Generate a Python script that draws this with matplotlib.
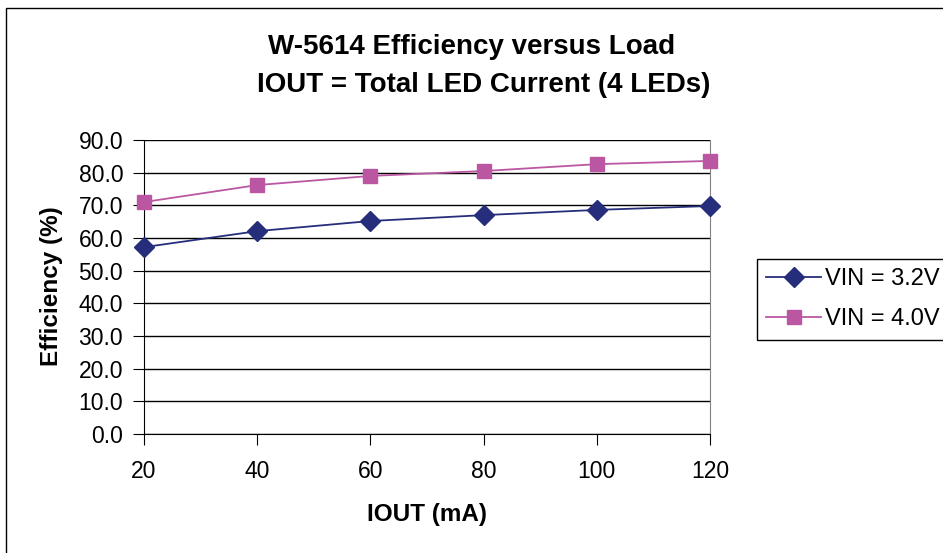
import matplotlib.pyplot as plt
from matplotlib.patches import Rectangle

plt.rcParams['font.family'] = ['Liberation Sans', 'DejaVu Sans']

# Data
iout = [20, 40, 60, 80, 100, 120]
eff_32 = [57.2, 62.1, 65.2, 67.0, 68.6, 69.8]
eff_40 = [71.0, 76.2, 79.0, 80.5, 82.6, 83.6]
y_ticks = [0, 10, 20, 30, 40, 50, 60, 70, 80, 90]

W, H = 943, 553
fig = plt.figure(figsize=(W / 100, H / 100), dpi=100)
ax = fig.add_axes([144 / W, 1 - 434 / H, (710 - 144) / W, (434 - 140) / H])

ax.plot(iout, eff_32, color='#262e7c', marker='D', markersize=10, lw=1.3,
        label='VIN = 3.2V', clip_on=False, zorder=4)
ax.plot(iout, eff_40, color='#bb57a2', marker='s', markersize=10, lw=1.3,
        label='VIN = 4.0V', clip_on=False, zorder=4)

ax.set_xlim(20, 120)
ax.set_ylim(0, 90)
ax.set_xticks(iout)
ax.set_yticks(y_ticks)
ax.set_yticklabels([f'{v:.1f}' for v in y_ticks])
ax.yaxis.grid(True, color='black', lw=1)
ax.set_axisbelow(True)

ax.spines['top'].set_visible(False)
ax.spines['right'].set_color('#808080')
ax.spines['left'].set_color('black')
ax.spines['bottom'].set_color('black')
ax.tick_params(axis='x', length=8, width=0.8, labelsize=16.5, pad=11)
ax.tick_params(axis='y', length=8, width=0.8, labelsize=16.5, pad=7)

ax.set_xlabel('IOUT (mA)', fontsize=17.5, fontweight='bold', labelpad=14)
fig.text(52 / W, 1 - 286 / H, 'Efficiency (%)', rotation=90, fontsize=17.5,
         fontweight='bold', ha='center', va='center')

fig.text(472 / W, 1 - 47 / H, 'W-5614 Efficiency versus Load', fontsize=20,
         fontweight='bold', ha='center', va='center')
fig.text(484 / W, 1 - 85 / H, 'IOUT = Total LED Current (4 LEDs)', fontsize=20,
         fontweight='bold', ha='center', va='center')

fig.legend(loc='upper left', bbox_to_anchor=(757 / W, 1 - 259 / H), fontsize=17,
           frameon=True, fancybox=False, edgecolor='black', framealpha=1,
           handlelength=2.3, borderpad=0.4, labelspacing=0.75, handletextpad=0.2,
           borderaxespad=0)

fig.patches.append(Rectangle((6 / W, -0.1), 1.2, 1 - 8 / H + 0.1,
                             transform=fig.transFigure, fill=False,
                             edgecolor='black', lw=1))

fig.savefig('out.png', dpi=100)
